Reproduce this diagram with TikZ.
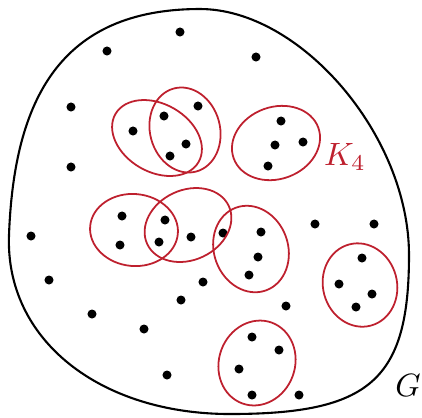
\documentclass[tikz,border=0pt]{standalone}
\definecolor{kred}{RGB}{190,32,46}
\begin{document}
\begin{tikzpicture}[x=0.31pt,y=-0.31pt,
  dot/.style={circle,fill=black,inner sep=0pt,minimum size=2.8pt},
  blob/.style={draw=black,line width=0.65pt},
  clique/.style={draw=kred,line width=0.55pt},
  lab/.style={inner sep=0pt}]
\useasboundingbox (0,0) rectangle (422,417);
% outer graph G
\draw[blob] (200,9) .. controls (300,9) and (409,135) .. (409,255)
  .. controls (409,380) and (370,414) .. (230,414)
  .. controls (100,414) and (5,340) .. (9,235)
  .. controls (14,100) and (60,9) .. (200,9) -- cycle;
% vertices
\foreach \n/\x/\y in {
 a1/180/32, a2/107/51, a3/256/57, a4/71/107, a5/198/106, a6/164/116, a7/133/131,
 a8/186/144, a9/170/156, a10/281/121, a11/275/145, a12/303/142, a13/268/166, a14/71/167,
 b1/122/216, b2/120/245, b3/165/220, b4/159/242, b5/191/237, b6/223/233, b7/261/232,
 b8/258/257, b9/249/275, b10/203/282, b11/181/300,
 c1/362/258, c2/339/284, c3/372/294, c4/356/307,
 e1/286/306, e2/252/337, e3/279/350, e4/239/369, e5/252/395, e6/299/395,
 f1/31/236, f2/49/280, f3/92/314, f4/144/329, f5/167/375, f6/315/224, f7/374/224}
 \node[dot] (\n) at (\x,\y) {};
% K4 copies
\draw[clique, rotate around={-30:(157,138)}] (157,138) ellipse [x radius=48, y radius=34];
\draw[clique, rotate around={15:(185,130)}] (185,130) ellipse [x radius=35, y radius=43];
\draw[clique, rotate around={20:(276,143)}] (276,143) ellipse [x radius=45, y radius=36];
\draw[clique, rotate around={-5:(134,230)}] (134,230) ellipse [x radius=44, y radius=36];
\draw[clique, rotate around={25:(188,225)}] (188,225) ellipse [x radius=45, y radius=35];
\draw[clique, rotate around={20:(251,249)}] (251,249) ellipse [x radius=37, y radius=44];
\draw[clique, rotate around={15:(360,285)}] (360,285) ellipse [x radius=37, y radius=42];
\draw[clique, rotate around={-20:(257,363)}] (257,363) ellipse [x radius=38, y radius=43];
% labels
\node[lab,text=kred] (k4) at (345,157) {$K_4$};
\node[lab] (g) at (408,385) {$G$};
\end{tikzpicture}
\end{document}
